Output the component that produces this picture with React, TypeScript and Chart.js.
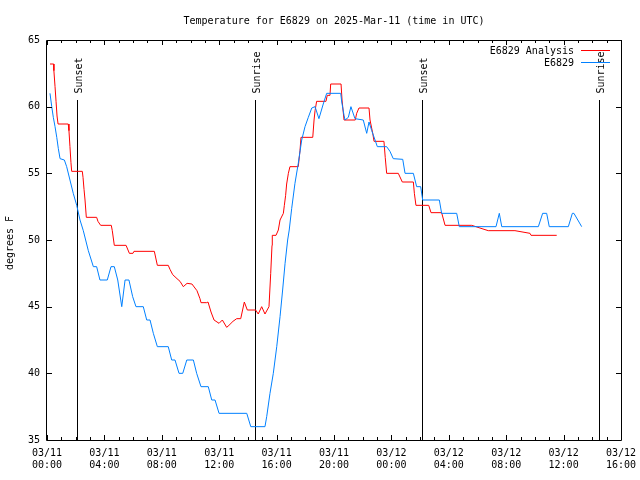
import React, { useEffect, useRef } from 'react';
import { Chart, registerables } from 'chart.js';

Chart.register(...registerables);

const TITLE = 'Temperature for E6829 on 2025-Mar-11 (time in UTC)';
const Y_LABEL = 'degrees F';
const SERIES_NAMES = ['E6829 Analysis', 'E6829'];
const SERIES_COLORS = ['#ff0000', '#0080ff'];

// x values are hours since 2025-03-11 00:00 UTC
const xTickLabels: string[][] = [
  ['03/11', '00:00'], ['03/11', '04:00'], ['03/11', '08:00'], ['03/11', '12:00'],
  ['03/11', '16:00'], ['03/11', '20:00'], ['03/12', '00:00'], ['03/12', '04:00'],
  ['03/12', '08:00'], ['03/12', '12:00'], ['03/12', '16:00'],
];

const eventNames = ['Sunset', 'Sunrise', 'Sunset', 'Sunrise'];
const eventHours = [2.09, 14.52, 26.15, 38.49];

const analysisSeries: [number, number][] = [
  [0.21, 63.2], [0.47, 63.2], [0.48, 62.7], [0.56, 61.5], [0.63, 60.4], [0.70, 59.3], [0.77, 58.7],
  [1.48, 58.7], [1.53, 58.2], [1.60, 57.0], [1.67, 55.8], [1.72, 55.15], [2.46, 55.15], [2.51, 54.7],
  [2.58, 53.8], [2.65, 53.0], [2.74, 51.7], [3.46, 51.7], [3.55, 51.4], [3.74, 51.1], [4.48, 51.1],
  [4.55, 50.7], [4.69, 49.6], [5.51, 49.6], [5.74, 49.0], [5.99, 49.0], [6.06, 49.15], [7.48, 49.15],
  [7.69, 48.1], [8.45, 48.1], [8.57, 47.8], [8.76, 47.4], [9.06, 47.1], [9.27, 46.9], [9.50, 46.5],
  [9.76, 46.75], [10.10, 46.7], [10.45, 46.2], [10.66, 45.6], [10.73, 45.3], [11.13, 45.3], [11.22, 45.35],
  [11.43, 44.6], [11.64, 44.0], [11.99, 43.75], [12.22, 44.0], [12.52, 43.45], [12.68, 43.6], [12.96, 43.9],
  [13.22, 44.1], [13.50, 44.1], [13.75, 45.35], [13.96, 44.75], [14.54, 44.75], [14.72, 44.45], [14.96, 45.0],
  [15.19, 44.45], [15.47, 45.0], [15.59, 47.5], [15.68, 49.6], [15.70, 50.35], [15.96, 50.35], [16.12, 50.75],
  [16.24, 51.5], [16.47, 52.0], [16.54, 52.6], [16.63, 53.35], [16.70, 54.2], [16.82, 55.0], [16.93, 55.5],
  [17.51, 55.5], [17.63, 56.7], [17.70, 57.7], [18.52, 57.7], [18.61, 59.0], [18.68, 59.7], [18.79, 60.4],
  [19.44, 60.4], [19.53, 60.85], [19.72, 60.85], [19.77, 61.7], [20.49, 61.7], [20.56, 60.5], [20.70, 59.0],
  [21.48, 59.0], [21.58, 59.5], [21.74, 59.9], [22.44, 59.9], [22.51, 59.0], [22.70, 58.0], [22.79, 57.4],
  [23.48, 57.4], [23.57, 56.2], [23.67, 55.0], [24.48, 55.0], [24.76, 54.35], [25.53, 54.35], [25.60, 53.5],
  [25.71, 52.6], [26.60, 52.6], [26.76, 52.05], [27.50, 52.05], [27.74, 51.1], [29.60, 51.1], [30.17, 50.9],
  [30.75, 50.7], [32.61, 50.7], [33.66, 50.5], [33.73, 50.35], [35.52, 50.35],
];

const observedSeries: [number, number][] = [
  [0.21, 61.0], [0.33, 60.0], [0.44, 59.2], [0.56, 58.5], [0.68, 57.7], [0.79, 56.85], [0.91, 56.1],
  [1.21, 56.0], [1.37, 55.5], [1.60, 54.5], [1.83, 53.5], [2.07, 52.6], [2.30, 51.5], [2.53, 50.7],
  [2.88, 49.2], [3.23, 48.0], [3.46, 48.0], [3.69, 47.0], [4.20, 47.0], [4.46, 48.0], [4.69, 48.0],
  [4.93, 47.0], [5.21, 45.0], [5.44, 47.0], [5.71, 47.0], [5.97, 45.75], [6.20, 45.0], [6.71, 45.0],
  [6.95, 44.0], [7.18, 44.0], [7.41, 43.0], [7.69, 42.0], [8.45, 42.0], [8.69, 41.0], [8.92, 41.0],
  [9.20, 40.0], [9.46, 40.0], [9.74, 41.0], [10.20, 41.0], [10.43, 40.0], [10.73, 39.0], [11.24, 39.0],
  [11.48, 38.0], [11.71, 38.0], [11.99, 37.0], [13.92, 37.0], [14.20, 36.0], [15.19, 36.0], [15.31, 36.75],
  [15.54, 38.5], [15.77, 40.0], [16.01, 42.0], [16.24, 44.25], [16.42, 46.25], [16.59, 48.25], [16.77, 50.0],
  [16.88, 50.75], [17.05, 52.35], [17.28, 54.25], [17.51, 55.75], [17.75, 57.5], [17.98, 58.5], [18.21, 59.2],
  [18.45, 59.9], [18.68, 60.0], [18.95, 59.1], [19.25, 60.2], [19.49, 61.0], [20.47, 61.0], [20.54, 60.35],
  [20.70, 59.35], [20.77, 59.0], [21.00, 59.2], [21.18, 60.0], [21.46, 59.1], [22.04, 59.0], [22.28, 58.0],
  [22.44, 58.85], [22.63, 58.2], [22.86, 57.5], [23.02, 57.0], [23.67, 57.0], [23.90, 56.65], [24.13, 56.1],
  [24.79, 56.05], [24.95, 55.0], [25.53, 55.0], [25.76, 54.0], [26.04, 54.0], [26.18, 53.0], [27.34, 53.0],
  [27.50, 52.0], [28.55, 52.0], [28.73, 51.0], [31.29, 51.0], [31.52, 52.0], [31.69, 51.0], [34.24, 51.0],
  [34.54, 52.0], [34.82, 52.0], [35.00, 51.0], [36.33, 51.0], [36.61, 52.0], [36.72, 52.0], [37.26, 51.0],
];

const X_MIN = 0;
const X_MAX = 40;
const Y_MIN = 35;
const Y_MAX = 65;
const Y_STEP = 5;

const FAMILY = '"DejaVu Sans Mono", monospace';
const FONT = `10px ${FAMILY}`;

const overlayPlugin = {
  id: 'gnuplotOverlay',
  beforeDatasetsDraw(chart: any) {
    const { ctx, chartArea } = chart;
    const xs = chart.scales.x;
    const h = chartArea.bottom - chartArea.top;
    const lineTop = chartArea.bottom - 0.85 * h;
    ctx.save();
    ctx.strokeStyle = '#000';
    ctx.lineWidth = 1;
    ctx.fillStyle = '#000';
    ctx.font = FONT;
    eventHours.forEach((hr, i) => {
      const px = Math.round(xs.getPixelForValue(hr)) + 0.5;
      ctx.beginPath();
      ctx.moveTo(px, lineTop);
      ctx.lineTo(px, chartArea.bottom);
      ctx.stroke();
      ctx.save();
      ctx.translate(px, lineTop - 6.5);
      ctx.rotate(-Math.PI / 2);
      ctx.textAlign = 'left';
      ctx.textBaseline = 'alphabetic';
      ctx.fillText(eventNames[i], 0, 4);
      ctx.restore();
    });
    ctx.restore();
  },
  afterDraw(chart: any) {
    const { ctx, chartArea } = chart;
    const { left, right, top, bottom } = chartArea;
    const xs = chart.scales.x;
    const ys = chart.scales.y;
    ctx.save();
    ctx.strokeStyle = '#000';
    ctx.lineWidth = 1;
    // border box
    ctx.beginPath();
    ctx.moveTo(left - 0.5, top + 0.5);
    ctx.lineTo(right + 0.5, top + 0.5);
    ctx.lineTo(right + 0.5, bottom + 0.5);
    ctx.lineTo(left - 0.5, bottom + 0.5);
    ctx.closePath();
    ctx.stroke();
    // x ticks (inward, mirrored)
    xs.ticks.forEach((t: any) => {
      const px = Math.round(xs.getPixelForValue(t.value)) + 0.5;
      const len = t.value % 4 === 0 ? 5 : 3;
      ctx.beginPath();
      ctx.moveTo(px, bottom);
      ctx.lineTo(px, bottom - len);
      ctx.moveTo(px, top);
      ctx.lineTo(px, top + len);
      ctx.stroke();
    });
    // y ticks
    ys.ticks.forEach((t: any) => {
      const py = Math.round(ys.getPixelForValue(t.value)) + 0.5;
      ctx.beginPath();
      ctx.moveTo(left, py);
      ctx.lineTo(left + 5, py);
      ctx.moveTo(right, py);
      ctx.lineTo(right - 5, py);
      ctx.stroke();
    });
    ctx.fillStyle = '#000';
    ctx.font = FONT;
    // title
    ctx.textAlign = 'center';
    ctx.textBaseline = 'alphabetic';
    ctx.fillText(TITLE, (left + right) / 2, 24);
    // y axis label
    ctx.save();
    ctx.translate(13, (top + bottom) / 2 + 3);
    ctx.rotate(-Math.PI / 2);
    ctx.textAlign = 'center';
    ctx.fillText(Y_LABEL, 0, 0);
    ctx.restore();
    // legend
    chart.data.datasets.forEach((ds: any, i: number) => {
      const base = 54 + i * 12;
      ctx.textAlign = 'right';
      ctx.fillStyle = '#000';
      ctx.fillText(ds.label, 574, base);
      ctx.strokeStyle = ds.borderColor;
      ctx.beginPath();
      ctx.moveTo(581, base - 3.5);
      ctx.lineTo(610, base - 3.5);
      ctx.stroke();
    });
    ctx.restore();
  },
};

export default function App() {
  const canvasRef = useRef<HTMLCanvasElement | null>(null);

  useEffect(() => {
    const canvas = canvasRef.current;
    if (!canvas) return;
    const chart = new Chart(canvas, {
      type: 'line',
      data: {
        datasets: [
          {
            label: SERIES_NAMES[0],
            data: analysisSeries.map(([x, y]) => ({ x, y })),
            borderColor: SERIES_COLORS[0],
            backgroundColor: SERIES_COLORS[0],
            borderWidth: 1,
            pointRadius: 0,
            tension: 0,
            fill: false,
            order: 2,
          },
          {
            label: SERIES_NAMES[1],
            data: observedSeries.map(([x, y]) => ({ x, y })),
            borderColor: SERIES_COLORS[1],
            backgroundColor: SERIES_COLORS[1],
            borderWidth: 1,
            pointRadius: 0,
            tension: 0,
            fill: false,
            order: 1,
          },
        ],
      },
      options: {
        animation: false,
        responsive: false,
        devicePixelRatio: 1,
        layout: { padding: { top: 40, right: 19, left: 0, bottom: 0 } },
        plugins: {
          legend: { display: false },
          title: { display: false },
          tooltip: { enabled: false },
        },
        scales: {
          x: {
            type: 'linear',
            min: X_MIN,
            max: X_MAX,
            grid: { display: false, drawTicks: false },
            border: { display: false },
            afterFit: (s: any) => {
              s.height = 40;
              s.paddingLeft = 0;
              s.paddingRight = 0;
            },
            ticks: {
              stepSize: 1,
              autoSkip: false,
              maxRotation: 0,
              minRotation: 0,
              padding: 7,
              color: '#000',
              font: { family: FAMILY, size: 10, lineHeight: 1.25 },
              callback: (v: any) => {
                const n = Number(v);
                return n % 4 === 0 ? xTickLabels[n / 4] : '';
              },
            },
          },
          y: {
            type: 'linear',
            min: Y_MIN,
            max: Y_MAX,
            grid: { display: false, drawTicks: false },
            border: { display: false },
            afterFit: (s: any) => {
              s.width = 47;
              s.paddingTop = 0;
              s.paddingBottom = 0;
            },
            ticks: {
              stepSize: Y_STEP,
              padding: 7,
              color: '#000',
              font: { family: FAMILY, size: 10 },
            },
          },
        },
      },
      plugins: [overlayPlugin],
    });
    return () => chart.destroy();
  }, []);

  return (
    <div style={{ position: 'absolute', left: 0, top: 0, width: 640, height: 480, background: '#fff' }}>
      <canvas ref={canvasRef} width={640} height={480} style={{ width: 640, height: 480 }} />
    </div>
  );
}
